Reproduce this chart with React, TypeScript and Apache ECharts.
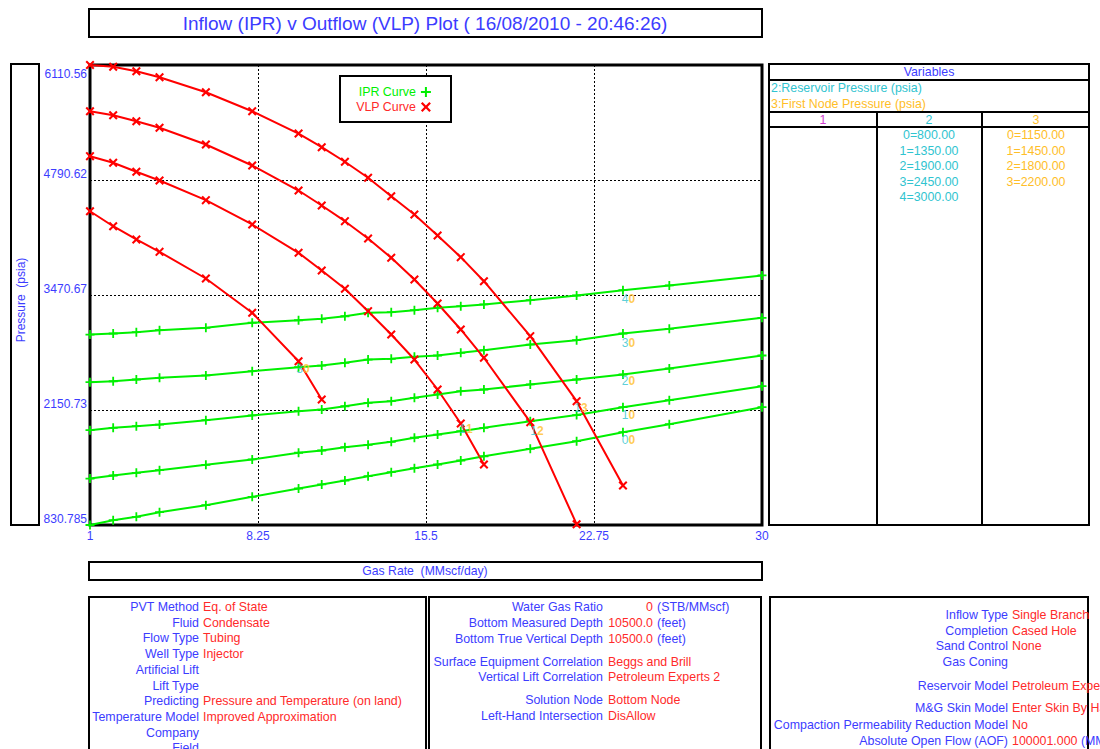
import React, { useEffect, useRef } from 'react';
import * as echarts from 'echarts';

// ---------- DATA ----------
const rates = [1, 2, 3, 4, 6, 8, 10, 11, 12, 13, 14, 15, 16, 17, 18, 20, 22, 24, 26, 30];

// IPR curves (reservoir pressure sensitivity 0..4)
const ipr0 = [831, 886, 925, 978, 1058, 1154, 1250, 1296, 1341, 1391, 1437, 1483, 1525, 1571, 1620, 1705, 1793, 1896, 1988, 2183];
const ipr1 = [1364, 1399, 1430, 1460, 1522, 1583, 1660, 1686, 1724, 1751, 1786, 1832, 1869, 1908, 1946, 2022, 2093, 2183, 2263, 2424];
const ipr2 = [1919, 1946, 1965, 1984, 2034, 2088, 2137, 2156, 2194, 2233, 2252, 2291, 2329, 2367, 2386, 2444, 2501, 2558, 2627, 2776];
const ipr3 = [2470, 2481, 2501, 2520, 2547, 2596, 2642, 2661, 2692, 2730, 2738, 2761, 2776, 2807, 2837, 2902, 2952, 3029, 3083, 3209];
const ipr4 = [3017, 3029, 3044, 3067, 3094, 3152, 3181, 3197, 3227, 3266, 3273, 3296, 3324, 3342, 3362, 3411, 3465, 3526, 3580, 3695];

// VLP curves (first node pressure sensitivity 0..3)
const vlp0 = [4432, 4260, 4108, 3966, 3660, 3267, 2711, 2271];
const vlp1 = [5064, 4988, 4885, 4785, 4559, 4280, 3955, 3752, 3542, 3285, 3017, 2730, 2386, 1996, 1525];
const vlp2 = [5580, 5534, 5465, 5390, 5198, 4957, 4670, 4498, 4318, 4119, 3898, 3648, 3373, 3075, 2750, 2011, 840];
const vlp3 = [6110, 6090, 6039, 5970, 5798, 5580, 5324, 5167, 5000, 4816, 4604, 4395, 4154, 3905, 3629, 2998, 2252, 1284];

// Solution / curve annotations: [rate, pressure], cyan index, orange index
const solutionPts = [[10.19, 2627], [17.23, 1927], [20.29, 1904], [22.19, 2168]];
const solutionCyan = ['3', '1', '1', '1'];
const solutionOrange = ['0', '1', '2', '3'];
const curveTagPts = [[24.24, 3430], [24.24, 2925], [24.24, 2478], [24.24, 2088], [24.24, 1801]];
const curveTagCyan = ['4', '3', '2', '1', '0'];
const curveTagOrange = ['0', '0', '0', '0', '0'];

// Axis ticks
const xTickValues = [1, 8.25, 15.5, 22.75, 30];
const xTickLabels = ['1', '8.25', '15.5', '22.75', '30'];
const yTickValues = [830.785, 2150.73, 3470.67, 4790.62, 6110.56];
const yTickLabels = ['830.785', '2150.73', '3470.67', '4790.62', '6110.56'];

// Texts
const titleText = 'Inflow (IPR) v Outflow (VLP) Plot ( 16/08/2010 - 20:46:26)';
const xTitle = 'Gas Rate  (MMscf/day)';
const yTitle = 'Pressure  (psia)';

const varHeader = 'Variables';
const varDesc2 = '2:Reservoir Pressure (psia)';
const varDesc3 = '3:First Node Pressure (psia)';
const varCols = ['1', '2', '3'];
const var2Values = ['0=800.00', '1=1350.00', '2=1900.00', '3=2450.00', '4=3000.00'];
const var3Values = ['0=1150.00', '1=1450.00', '2=1800.00', '3=2200.00'];

const panel1Labels = ['PVT Method', 'Fluid', 'Flow Type', 'Well Type', 'Artificial Lift', 'Lift Type', 'Predicting', 'Temperature Model', 'Company', 'Field'];
const panel1Values = ['Eq. of State', 'Condensate', 'Tubing', 'Injector', '', '', 'Pressure and Temperature (on land)', 'Improved Approximation', '', ''];

const panel2Labels = ['Water Gas Ratio', 'Bottom Measured Depth', 'Bottom True Vertical Depth', 'Surface Equipment Correlation', 'Vertical Lift Correlation', 'Solution Node', 'Left-Hand Intersection'];
const panel2Values = ['0', '10500.0', '10500.0', 'Beggs and Brill', 'Petroleum Experts 2', 'Bottom Node', 'DisAllow'];
const panel2Units = ['(STB/MMscf)', '(feet)', '(feet)', '', '', '', ''];

const panel3Labels = ['Inflow Type', 'Completion', 'Sand Control', 'Gas Coning', 'Reservoir Model', 'M&G Skin Model', 'Compaction Permeability Reduction Model', 'Absolute Open Flow (AOF)'];
const panel3Values = ['Single Branch', 'Cased Hole', 'None', '', 'Petroleum Experts', 'Enter Skin By Hand', 'No', '100001.000'];
const panel3Units = ['', '', '', '', '', '', '', '(MMscf/day)'];

// ---------- STYLE ----------
const FONT = '"Liberation Sans", Arial, Helvetica, sans-serif';
const BLUE = '#3c3cff';
const RED = '#ff2a2a';
const CYAN = '#30c4d0';
const ORANGE = '#ffbe28';
const MAGENTA = '#d040d0';
const GREEN = '#00f000';
const LINE_RED = '#ff0000';
const PANEL_FS = 12.4;

const plusPath = 'path://M4,0 L6,0 L6,4 L10,4 L10,6 L6,6 L6,10 L4,10 L4,6 L0,6 L0,4 L4,4 Z';
const crossPath = 'path://M0,1.6 L1.6,0 L5,3.4 L8.4,0 L10,1.6 L6.6,5 L10,8.4 L8.4,10 L5,6.6 L1.6,10 L0,8.4 L3.4,5 Z';

const nearestLabel = (vals: number[], labels: string[]) => (v: number) => {
  let bi = 0;
  vals.forEach((t, i) => {
    if (Math.abs(t - v) < Math.abs(vals[bi] - v)) bi = i;
  });
  return labels[bi];
};

const txt = (x: number, y: number, text: string, fill: string, align = 'left', size = PANEL_FS, extra: any = {}) => ({
  type: 'text',
  x,
  y,
  silent: true,
  z: 10,
  style: {
    text,
    fill,
    font: `${size}px ${FONT}`,
    align,
    verticalAlign: 'middle',
    textAlign: align,
    textVerticalAlign: 'middle',
    ...extra,
  },
});

const rect = (x: number, y: number, w: number, h: number, lw = 2, fill = 'none', z = 5) => ({
  type: 'rect',
  silent: true,
  z,
  shape: { x, y, width: w, height: h },
  style: { fill, stroke: '#000', lineWidth: lw },
});

const hline = (x1: number, x2: number, y: number, lw = 2) => ({
  type: 'line',
  silent: true,
  z: 6,
  shape: { x1, y1: y, x2, y2: y },
  style: { stroke: '#000', lineWidth: lw },
});
const vline = (x: number, y1: number, y2: number, lw = 2) => ({
  type: 'line',
  silent: true,
  z: 6,
  shape: { x1: x, y1, x2: x, y2 },
  style: { stroke: '#000', lineWidth: lw },
});

const valueUnit = (x: number, y: number, value: string, unit: string) => ({
  type: 'text',
  x,
  y,
  silent: true,
  z: 10,
  style: {
    text: `{r|${value}} {b|${unit}}`,
    font: `${PANEL_FS}px ${FONT}`,
    align: 'left',
    verticalAlign: 'middle',
    textAlign: 'left',
    textVerticalAlign: 'middle',
    rich: {
      r: { fill: RED, color: RED, font: `${PANEL_FS}px ${FONT}` },
      b: { fill: BLUE, color: BLUE, font: `${PANEL_FS}px ${FONT}` },
    },
  },
});

function buildGraphics() {
  const g: any[] = [];
  // Title box
  g.push(rect(89, 9, 673, 28));
  g.push(txt(425, 23, titleText, BLUE, 'center', 19));
  // Y title box
  g.push(rect(11, 64, 28, 461));
  g.push({
    type: 'text',
    x: 21,
    y: 300,
    rotation: Math.PI / 2,
    silent: true,
    z: 10,
    style: {
      text: yTitle,
      fill: BLUE,
      font: `12px ${FONT}`,
      align: 'center',
      verticalAlign: 'middle',
      textAlign: 'center',
      textVerticalAlign: 'middle',
    },
  });
  // X title box
  g.push(rect(89, 562, 673, 18));
  g.push(txt(425, 571, xTitle, BLUE, 'center', 12.2));
  // Legend box
  g.push(rect(340, 76, 111, 46, 2, '#fff', 3));

  // Variables panel
  g.push(rect(769, 64, 320, 461));
  g.push(hline(769, 1089, 80));
  g.push(hline(769, 1089, 112));
  g.push(hline(769, 1089, 127));
  g.push(vline(877, 112, 525));
  g.push(vline(982, 112, 525));
  g.push(txt(929, 72, varHeader, BLUE, 'center'));
  g.push(txt(771, 88, varDesc2, CYAN, 'left'));
  g.push(txt(771, 104, varDesc3, ORANGE, 'left'));
  const colX = [823, 929, 1036];
  const colColors = [MAGENTA, CYAN, ORANGE];
  varCols.forEach((c, i) => g.push(txt(colX[i], 120, c, colColors[i], 'center')));
  var2Values.forEach((v, i) => g.push(txt(929, 135 + i * 15.5, v, CYAN, 'center')));
  var3Values.forEach((v, i) => g.push(txt(1036, 135 + i * 15.5, v, ORANGE, 'center')));

  // Bottom panels
  g.push(rect(89, 597, 337, 180));
  g.push(rect(429, 597, 332, 180));
  g.push(rect(770, 597, 318, 180));

  panel1Labels.forEach((l, i) => {
    const y = 607 + i * 15.7;
    g.push(txt(199, y, l, BLUE, 'right'));
    if (panel1Values[i]) g.push(txt(203, y, panel1Values[i], RED, 'left'));
  });

  const p2Y = [607, 623, 639, 662, 677, 700, 716];
  panel2Labels.forEach((l, i) => {
    const y = p2Y[i];
    g.push(txt(603, y, l, BLUE, 'right'));
    if (panel2Units[i]) {
      g.push(txt(653, y, panel2Values[i], RED, 'right'));
      g.push(txt(657, y, panel2Units[i], BLUE, 'left'));
    } else {
      g.push(txt(608, y, panel2Values[i], RED, 'left'));
    }
  });

  const p3Y = [615, 631, 646, 662, 686, 708, 725, 741];
  panel3Labels.forEach((l, i) => {
    const y = p3Y[i];
    g.push(txt(1008, y, l, BLUE, 'right'));
    if (panel3Units[i]) g.push(valueUnit(1012, y, panel3Values[i], panel3Units[i]));
    else if (panel3Values[i]) g.push(txt(1012, y, panel3Values[i], RED, 'left'));
  });
  return g;
}

const lineSeries = (name: string, values: number[], color: string, symbol: string) => ({
  name,
  type: 'line',
  data: values.map((v, i) => [rates[i], v]),
  symbol,
  symbolSize: 9,
  showAllSymbol: true,
  lineStyle: { color, width: 2 },
  itemStyle: { color },
  emphasis: { disabled: true },
  z: 3,
});

const tagSeries = (pts: number[][], cyan: string[], orange: string[]) => ({
  type: 'scatter',
  data: pts.map((p, i) => ({ value: p, c: cyan[i], o: orange[i] })),
  symbolSize: 1,
  itemStyle: { color: 'rgba(0,0,0,0)' },
  z: 5,
  label: {
    show: true,
    position: 'inside',
    formatter: (p: any) => `{c|${p.data.c}}{o|${p.data.o}}`,
    rich: {
      c: { color: CYAN, fontSize: 12, fontFamily: FONT },
      o: { color: ORANGE, fontSize: 12, fontFamily: FONT, fontWeight: 'bold' },
    },
  },
  emphasis: { disabled: true },
});

export default function App() {
  const ref = useRef<HTMLDivElement>(null);
  useEffect(() => {
    if (!ref.current) return;
    const chart = echarts.init(ref.current, undefined, { renderer: 'svg' });
    const yMin = yTickValues[0];
    const yMax = yTickValues[yTickValues.length - 1];
    const axisLabelBase = { color: BLUE, fontSize: 12, fontFamily: FONT };
    chart.setOption({
      animation: false,
      backgroundColor: '#fff',
      textStyle: { fontFamily: FONT },
      grid: {
        left: 90,
        top: 65,
        width: 672,
        height: 460,
        show: true,
        borderColor: '#000',
        borderWidth: 3,
        backgroundColor: '#fff',
        containLabel: false,
        outerBoundsMode: 'none',
      },
      legend: {
        orient: 'vertical',
        left: 351,
        top: 81,
        align: 'right',
        itemWidth: 10,
        itemHeight: 10,
        itemGap: 3,
        selectedMode: false,
        textStyle: { fontSize: 12.4, fontFamily: FONT },
        data: [
          { name: 'IPR Curve', icon: plusPath, textStyle: { color: GREEN } },
          { name: 'VLP Curve', icon: crossPath, textStyle: { color: RED } },
        ],
        z: 6,
      },
      xAxis: {
        type: 'value',
        min: 1,
        max: 30,
        axisLine: { show: false },
        axisTick: { show: false, customValues: xTickValues },
        axisLabel: {
          ...axisLabelBase,
          customValues: xTickValues,
          formatter: nearestLabel(xTickValues, xTickLabels),
          margin: 5,
        },
        splitLine: { show: true, lineStyle: { color: '#000', type: [2, 2], width: 1 } },
      },
      yAxis: [
        {
          type: 'value',
          min: yMin,
          max: yMax,
          position: 'left',
          offset: 0,
          axisLine: { show: false },
          axisTick: { show: false, customValues: yTickValues },
          axisLabel: {
            ...axisLabelBase,
            customValues: yTickValues.slice(0, 4),
            formatter: nearestLabel(yTickValues, yTickLabels),
            verticalAlign: 'bottom',
            margin: 3,
          },
          splitLine: { show: true, lineStyle: { color: '#000', type: [2, 2], width: 1 } },
        },
        {
          type: 'value',
          min: yMin,
          max: yMax,
          position: 'left',
          offset: 0,
          axisLine: { show: false },
          axisTick: { show: false, customValues: [yMax] },
          axisLabel: {
            ...axisLabelBase,
            customValues: [yMax],
            formatter: nearestLabel(yTickValues, yTickLabels),
            verticalAlign: 'top',
            padding: [3, 0, 0, 0],
            margin: 3,
          },
          splitLine: { show: false },
        },
      ],
      series: [
        lineSeries('IPR Curve', ipr0, GREEN, plusPath),
        lineSeries('IPR Curve', ipr1, GREEN, plusPath),
        lineSeries('IPR Curve', ipr2, GREEN, plusPath),
        lineSeries('IPR Curve', ipr3, GREEN, plusPath),
        lineSeries('IPR Curve', ipr4, GREEN, plusPath),
        lineSeries('VLP Curve', vlp0, LINE_RED, crossPath),
        lineSeries('VLP Curve', vlp1, LINE_RED, crossPath),
        lineSeries('VLP Curve', vlp2, LINE_RED, crossPath),
        lineSeries('VLP Curve', vlp3, LINE_RED, crossPath),
        tagSeries(solutionPts, solutionCyan, solutionOrange),
        tagSeries(curveTagPts, curveTagCyan, curveTagOrange),
      ],
      graphic: buildGraphics(),
    });
    return () => chart.dispose();
  }, []);
  return (
    <div
      ref={ref}
      style={{ position: 'fixed', left: 0, top: 0, width: 1100, height: 749, background: '#fff' }}
    />
  );
}
